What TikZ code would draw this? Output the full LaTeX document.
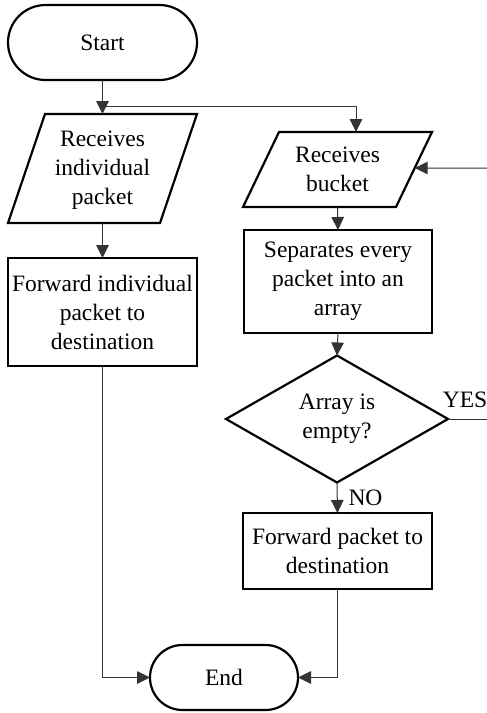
\documentclass[tikz,border=0pt]{standalone}
\usepackage{fontspec}
\setmainfont{Liberation Serif}
\usetikzlibrary{arrows.meta,calc}
\begin{document}
\begin{tikzpicture}[x=1pt,y=-1pt,
  txt/.style={font=\fontsize{23.5}{29}\selectfont, align=center, inner sep=0pt, outer sep=0pt},
  frame/.style={txt, rectangle},
  blk/.style={line width=2.2pt, black},
  box/.style={frame, draw, line width=2.2pt},
  terminal/.style={frame, draw, line width=2.2pt},
  flow/.style={line width=1pt, black!80},
  arr/.style={flow, -{Triangle[length=13pt,width=12.5pt]}}
]
\useasboundingbox (0,0) rectangle (487,713);

% terminals
\node[terminal, minimum width=189pt, minimum height=75pt, rounded corners=37.5pt] (start) at (102.5,42.5) {Start};
\node[terminal, minimum width=148pt, minimum height=65pt, rounded corners=32.5pt] (end) at (224,677.5) {End};

% input/output parallelograms
\node[frame, minimum width=189pt, minimum height=109pt] (p1) at (102.5,170) {Receives\\individual\\packet};
\path (102.5,168.5) +(-94.5,-54.5) coordinate (p1nw) +(94.5,54.5) coordinate (p1se);
\draw[blk] ([xshift=37pt]p1nw) -- (p1nw -| p1se) -- ([xshift=-37pt]p1se) -- (p1se -| p1nw) -- cycle;
\node[frame, minimum width=189pt, minimum height=75pt] (p2) at (337.5,169.5) {Receives\\bucket};
\draw[blk] ([xshift=36pt]p2.north west) -- (p2.north east) -- ([xshift=-36pt]p2.south east) -- (p2.south west) -- cycle;

% process boxes
\node[box, minimum width=189pt, minimum height=108pt] (r1) at (102.5,312) {Forward individual\\packet to\\destination};
\node[box, minimum width=188pt, minimum height=103pt] (r2) at (338,281.5) {Separates every\\packet into an\\array};
\node[box, minimum width=189pt, minimum height=76pt] (r3) at (337.5,551) {Forward packet to\\destination};

% decision
\node[frame, minimum width=222pt, minimum height=127pt] (d) at (337,419) {Array is\\empty?};
\draw[blk] (d.north) -- (d.east) -- (d.south) -- (d.west) -- cycle;

% connectors
\coordinate (split) at (102.5,106);
\coordinate (loopin) at (487,168);
\coordinate (yesend) at (487,419);

\draw[arr] (start.south) -- (p1nw -| start.south);
\draw[arr] (split) -| ([xshift=18.5pt]p2.north);
\draw[arr] (p1se -| p1.south) -- (r1.north);
\draw[arr] (r1.south) |- (end.west);
\draw[arr] (loopin) -- ($(p2.north east)!0.48!([xshift=-36pt]p2.south east)$);
\draw[arr] (p2.south) -- (r2.north);
\draw[arr] (r2.south) -- (d.north);
\draw[flow] (d.east) -- (yesend);
\node[txt] at (465,400) {YES};
\draw[arr] (d.south) -- (r3.north);
\node[txt] at (365.5,498) {NO};
\draw[arr] (r3.south) |- (end.east);
\end{tikzpicture}
\end{document}
